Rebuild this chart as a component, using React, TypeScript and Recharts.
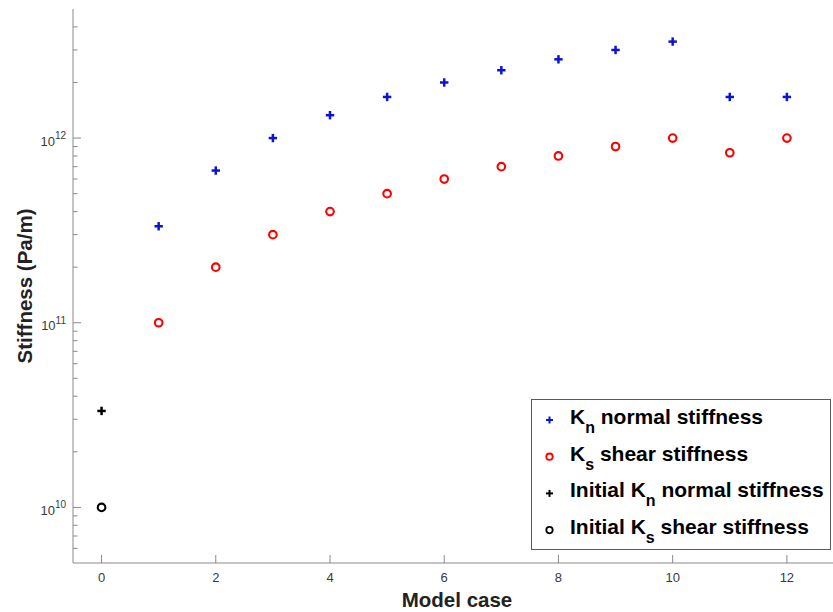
import React from 'react';
import { ScatterChart, Scatter, XAxis, YAxis, Legend } from 'recharts';

// Model cases and measured joint stiffness (Pa/m)
const modelCases = [1, 2, 3, 4, 5, 6, 7, 8, 9, 10, 11, 12];
const normalStiffness = [
  3.33e11, 6.67e11, 1.0e12, 1.33e12, 1.67e12, 2.0e12, 2.33e12, 2.67e12, 3.0e12, 3.33e12, 1.67e12, 1.67e12,
];
const shearStiffness = [
  1.0e11, 2.0e11, 3.0e11, 4.0e11, 5.0e11, 6.0e11, 7.0e11, 8.0e11, 9.0e11, 1.0e12, 8.33e11, 1.0e12,
];
const initialCase = [0];
const initialNormal = [3.33e10];
const initialShear = [1.0e10];

// Axis ticks
const xTicks = [0, 2, 4, 6, 8, 10, 12];
const yMajorTicks = [1e10, 1e11, 1e12];
const yMinorTicks = [
  6e9, 7e9, 8e9, 9e9,
  2e10, 3e10, 4e10, 5e10, 6e10, 7e10, 8e10, 9e10,
  2e11, 3e11, 4e11, 5e11, 6e11, 7e11, 8e11, 9e11,
  2e12, 3e12, 4e12,
];
const yTicks = [...yMajorTicks, ...yMinorTicks].sort((a, b) => a - b);

const legendLabels = [
  { pre: 'K', sub: 'n', post: ' normal stiffness' },
  { pre: 'K', sub: 's', post: ' shear stiffness' },
  { pre: 'Initial K', sub: 'n', post: ' normal stiffness' },
  { pre: 'Initial K', sub: 's', post: ' shear stiffness' },
];

const BLUE = '#0a14d2';
const RED = '#ff0000';
const BLACK = '#000000';
const AXIS = '#8a8a8a';
const TICK_TEXT = '#3a3a3a';
const FONT = '"Liberation Sans", Arial, Helvetica, sans-serif';

const normalData = modelCases.map((c, i) => ({ x: c, y: normalStiffness[i] }));
const shearData = modelCases.map((c, i) => ({ x: c, y: shearStiffness[i] }));
const initialNormalData = initialCase.map((c, i) => ({ x: c, y: initialNormal[i] }));
const initialShearData = initialCase.map((c, i) => ({ x: c, y: initialShear[i] }));

const Plus = ({ cx, cy, color, size = 4.2, width = 2.5 }: any) => (
  <g>
    <line x1={cx - size} x2={cx + size} y1={cy} y2={cy} stroke={color} strokeWidth={width} />
    <line x1={cx} x2={cx} y1={cy - size} y2={cy + size} stroke={color} strokeWidth={width} />
  </g>
);

const Ring = ({ cx, cy, color, r = 3.8, width = 2.1 }: any) => (
  <circle cx={cx} cy={cy} r={r} fill="none" stroke={color} strokeWidth={width} />
);

const YTick = (props: any) => {
  const { x, y, payload } = props;
  const v = payload.value;
  const major = yMajorTicks.includes(v);
  const exp = Math.round(Math.log10(v));
  return (
    <g>
      <line x1={x} x2={x + (major ? 8 : 4.5)} y1={y} y2={y} stroke={AXIS} strokeWidth={1} />
      {major && (
        <text x={x - 7} y={y + 7.5} textAnchor="end" fill={TICK_TEXT} fontFamily={FONT} fontSize={13}>
          <tspan>10</tspan>
          <tspan dy={-6.5} fontSize={10}>{exp}</tspan>
        </text>
      )}
    </g>
  );
};

const XBottomTick = (props: any) => {
  const { x, y, payload } = props;
  return (
    <g>
      <line x1={x} x2={x} y1={y} y2={y - 8} stroke={AXIS} strokeWidth={1} />
      <text x={x} y={y + 19} textAnchor="middle" fill={TICK_TEXT} fontFamily={FONT} fontSize={13}>
        {payload.value}
      </text>
    </g>
  );
};

const XTopTick = (props: any) => {
  const { x, y } = props;
  return <line x1={x} x2={x} y1={y} y2={y + 8} stroke={AXIS} strokeWidth={1} />;
};

const LegendBox = () => {
  const markers = [
    (cx: number, cy: number) => <Plus cx={cx} cy={cy} color={BLUE} size={3.5} width={2} />,
    (cx: number, cy: number) => <Ring cx={cx} cy={cy} color={RED} r={3.2} width={1.8} />,
    (cx: number, cy: number) => <Plus cx={cx} cy={cy} color={BLACK} size={3.5} width={2} />,
    (cx: number, cy: number) => <Ring cx={cx} cy={cy} color={BLACK} r={3.2} width={1.8} />,
  ];
  return (
    <svg width={300} height={151} style={{ display: 'block' }}>
      <rect x={0.5} y={0.5} width={299} height={150} fill="#ffffff" stroke="#5a5a5a" strokeWidth={1} />
      {legendLabels.map((l, i) => {
        const rowY = 21 + i * 36.7;
        return (
          <g key={i}>
            {markers[i](18.5, rowY)}
            <text x={39} y={rowY + 4} fontFamily={FONT} fontWeight="bold" fontSize={21} fill="#000">
              <tspan>{l.pre}</tspan>
              <tspan dy={9} fontSize={16}>{l.sub}</tspan>
              <tspan dy={-9}>{l.post}</tspan>
            </text>
          </g>
        );
      })}
    </svg>
  );
};

export default function App() {
  return (
    <div
      style={{
        position: 'absolute',
        left: 0,
        top: 0,
        width: 833,
        height: 612,
        overflow: 'hidden',
        background: '#ffffff',
      }}
    >
      <ScatterChart width={870} height={612} margin={{ top: 9, right: 26, bottom: 0, left: 0 }}>
        <XAxis
          xAxisId="bottom"
          dataKey="x"
          type="number"
          domain={[-0.5, 13]}
          ticks={xTicks}
          interval={0}
          allowDataOverflow
          height={49}
          tickSize={0}
          tickMargin={0}
          tickLine={false}
          axisLine={{ stroke: AXIS, strokeWidth: 1 }}
          tick={<XBottomTick />}
          label={{
            value: 'Model case',
            position: 'insideBottom',
            content: ({ viewBox }: any) => (
              <text
                x={457}
                y={607}
                textAnchor="middle"
                fontFamily={FONT}
                fontWeight="bold"
                fontSize={20.5}
                fill="#222"
              >
                Model case
              </text>
            ),
          }}
        />
        <XAxis
          xAxisId="top"
          orientation="top"
          dataKey="x"
          type="number"
          domain={[-0.5, 13]}
          ticks={xTicks}
          interval={0}
          allowDataOverflow
          height={0}
          tickSize={0}
          tickMargin={0}
          tickLine={false}
          axisLine={{ stroke: AXIS, strokeWidth: 1 }}
          tick={<XTopTick />}
        />
        <YAxis
          dataKey="y"
          type="number"
          scale="log"
          domain={[5e9, 5e12]}
          ticks={yTicks}
          interval={0}
          allowDataOverflow
          width={73}
          tickSize={0}
          tickMargin={0}
          tickLine={false}
          axisLine={{ stroke: AXIS, strokeWidth: 1 }}
          tick={<YTick />}
          label={{
            value: 'Stiffness (Pa/m)',
            position: 'insideLeft',
            content: ({ viewBox }: any) => {
              const cy = viewBox.y + viewBox.height / 2;
              return (
                <text
                  x={32}
                  y={cy}
                  transform={`rotate(-90 32 ${cy})`}
                  textAnchor="middle"
                  fontFamily={FONT}
                  fontWeight="bold"
                  fontSize={20.5}
                  fill="#222"
                >
                  Stiffness (Pa/m)
                </text>
              );
            },
          }}
        />
        <Legend
          layout="vertical"
          align="center"
          verticalAlign="middle"
          content={() => <LegendBox />}
          wrapperStyle={{ position: 'absolute', left: 531, top: 399, width: 300, height: 151 }}
        />
        <Scatter
          name="Kn normal stiffness"
          xAxisId="bottom"
          data={normalData}
          isAnimationActive={false}
          shape={(p: any) => <Plus cx={p.cx} cy={p.cy} color={BLUE} />}
        />
        <Scatter
          name="Ks shear stiffness"
          xAxisId="bottom"
          data={shearData}
          isAnimationActive={false}
          shape={(p: any) => <Ring cx={p.cx} cy={p.cy} color={RED} />}
        />
        <Scatter
          name="Initial Kn normal stiffness"
          xAxisId="bottom"
          data={initialNormalData}
          isAnimationActive={false}
          shape={(p: any) => <Plus cx={p.cx} cy={p.cy} color={BLACK} />}
        />
        <Scatter
          name="Initial Ks shear stiffness"
          xAxisId="bottom"
          data={initialShearData}
          isAnimationActive={false}
          shape={(p: any) => <Ring cx={p.cx} cy={p.cy} color={BLACK} />}
        />
      </ScatterChart>
    </div>
  );
}
